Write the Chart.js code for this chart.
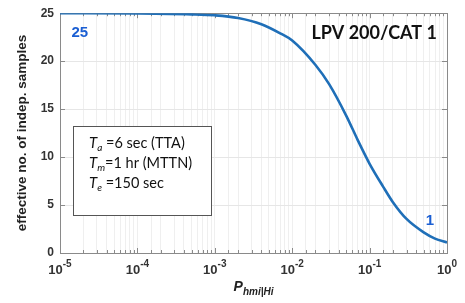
<!DOCTYPE html>
<html><head><meta charset="utf-8">
<script src="https://cdn.jsdelivr.net/npm/chart.js@4"></script>
<style>html,body{margin:0;padding:0;background:#fff}#wrap{width:465px;height:303px;position:relative}</style>
</head><body><div id="wrap"><canvas id="c"></canvas></div>
<script>
const pValues = [1e-5, 1e-4, 5e-4, 1e-3, 2e-3, 4e-3, 7e-3, 1e-2, 2e-2, 3e-2, 5e-2, 7e-2, 0.1, 0.15, 0.2, 0.3, 0.5, 0.7, 1];
const nEff    = [25.0, 24.97, 24.88, 24.78, 24.5, 23.85, 22.9, 22.15, 19.6, 17.6, 14.3, 11.8, 9.3, 6.9, 5.3, 3.55, 2.15, 1.5, 1.1];
const xTickExponents = [-5, -4, -3, -2, -1, 0];
const yTickValues = [0, 5, 10, 15, 20, 25];
const startLabel = "25";
const endLabel = "1";
const titleLabel = "LPV 200/CAT 1";
const yTitle = "effective no. of indep. samples";
const xTitleMain = "P";
const xTitleSub = "hmi|Hi";
const boxLines = [["a", " =6 sec (TTA)"], ["m", "=1 hr (MTTN)"], ["e", " =150 sec"]];

const BLUE = '#1f6fb8', LBLUE = '#1b5fd3';

const overlay = {
  id: 'overlay',
  beforeDatasetsDraw(chart) {
    const {ctx, chartArea: a, scales: {x, y}} = chart;
    ctx.save();
    ctx.strokeStyle = '#8a8a8a';
    ctx.lineWidth = 1;
    ctx.beginPath();
    x.ticks.forEach(t => {
      const px = Math.round(x.getPixelForValue(t.value)) + 0.5;
      const major = Math.abs(Math.log10(t.value) - Math.round(Math.log10(t.value))) < 1e-6;
      const len = major ? 5 : 3;
      ctx.moveTo(px, a.bottom); ctx.lineTo(px, a.bottom - len);
      ctx.moveTo(px, a.top); ctx.lineTo(px, a.top + len);
    });
    yTickValues.forEach(v => {
      const py = Math.round(y.getPixelForValue(v)) + 0.5;
      ctx.moveTo(a.left, py); ctx.lineTo(a.left + 5, py);
      ctx.moveTo(a.right, py); ctx.lineTo(a.right - 5, py);
    });
    ctx.stroke();
    ctx.strokeRect(Math.round(a.left) + 0.5, Math.round(a.top) + 0.5, Math.round(a.right - a.left), Math.round(a.bottom - a.top));
    ctx.restore();
  },
  afterDraw(chart) {
    const {ctx, chartArea: a, scales: {x, y}} = chart;
    ctx.save();
    ctx.fillStyle = '#333';
    const FB = 'bold 13px "Liberation Sans", Arial, sans-serif';
    const FE = 'bold 10px "Liberation Sans", Arial, sans-serif';
    xTickExponents.forEach(e => {
      const px = x.getPixelForValue(Math.pow(10, e));
      const base = '10', exp = String(e);
      ctx.font = FB; const wb = ctx.measureText(base).width;
      ctx.font = FE; const we = ctx.measureText(exp).width;
      const start = px - (wb + we) / 2;
      ctx.textBaseline = 'alphabetic';
      ctx.textAlign = 'left';
      ctx.font = FB; ctx.fillText(base, start, a.bottom + 21);
      ctx.font = FE; ctx.fillText(exp, start + wb, a.bottom + 14);
    });
    // x title
    ctx.fillStyle = '#222';
    const FP = 'italic bold 14px "Liberation Sans", Arial, sans-serif';
    const FS = 'italic bold 10px "Liberation Sans", Arial, sans-serif';
    ctx.font = FP; const wP = ctx.measureText(xTitleMain).width;
    ctx.font = FS; const wS = ctx.measureText(xTitleSub).width;
    const sx = (a.left + a.right) / 2 - (wP + wS) / 2;
    ctx.font = FP; ctx.fillText(xTitleMain, sx, 291);
    ctx.font = FS; ctx.fillText(xTitleSub, sx + wP, 295);
    // blue labels
    ctx.fillStyle = LBLUE;
    ctx.font = 'bold 15px "Liberation Sans", Arial, sans-serif';
    ctx.textAlign = 'center';
    ctx.textBaseline = 'middle';
    ctx.fillText(startLabel, x.getPixelForValue(1.8e-5), y.getPixelForValue(22.9));
    ctx.fillText(endLabel, x.getPixelForValue(0.6), y.getPixelForValue(3.4));
    // title label
    ctx.fillStyle = '#111';
    ctx.font = 'bold 18px Lato, "Open Sans", sans-serif';
    ctx.textAlign = 'right';
    ctx.fillText(titleLabel, x.getPixelForValue(0.74), y.getPixelForValue(22.9));
    // parameter box
    const bl = Math.round(x.getPixelForValue(1.48e-5)) + 0.5, br = Math.round(x.getPixelForValue(8.9e-4)) + 0.5;
    const bt = Math.round(y.getPixelForValue(13.2)) + 0.5, bb = Math.round(y.getPixelForValue(4.0)) + 0.5;
    ctx.fillStyle = '#fff';
    ctx.fillRect(bl, bt, br - bl, bb - bt);
    ctx.strokeStyle = '#555';
    ctx.lineWidth = 1;
    ctx.strokeRect(bl, bt, br - bl, bb - bt);
    ctx.fillStyle = '#111';
    ctx.textAlign = 'left';
    ctx.textBaseline = 'alphabetic';
    boxLines.forEach((ln, i) => {
      const by = bt + 21 + i * 20;
      let tx = bl + 15.5;
      ctx.font = 'italic 15px Lato, "Open Sans", sans-serif';
      ctx.fillText('T', tx, by);
      tx += ctx.measureText('T').width;
      ctx.font = 'italic 10px Lato, "Open Sans", sans-serif';
      ctx.fillText(ln[0], tx, by + 3);
      tx += ctx.measureText(ln[0]).width;
      ctx.font = '14.5px Lato, "Open Sans", sans-serif';
      ctx.fillText(ln[1], tx, by);
    });
    ctx.restore();
  }
};

new Chart(document.getElementById('c'), {
  type: 'scatter',
  data: {
    datasets: [{
      data: pValues.map((p, i) => ({x: p, y: nEff[i]})),
      showLine: true,
      borderColor: BLUE,
      borderWidth: 2.6,
      pointRadius: 0,
      cubicInterpolationMode: 'monotone',
      fill: false
    }]
  },
  options: {
    responsive: true,
    maintainAspectRatio: false,
    animation: false,
    layout: {padding: {top: 11, right: 18, left: 0, bottom: 0}},
    plugins: {legend: {display: false}, tooltip: {enabled: false}},
    scales: {
      x: {
        type: 'logarithmic',
        min: 1e-5, max: 1,
        afterFit: s => { s.height = 50; },
        ticks: {display: false},
        grid: {color: '#efefef', drawTicks: false},
        border: {display: false}
      },
      y: {
        min: 0, max: 25,
        afterFit: s => { s.width = 60; },
        afterBuildTicks: s => { s.ticks = yTickValues.map(v => ({value: v})); },
        ticks: {
          padding: 6,
          color: '#333',
          font: {family: '"Liberation Sans", Arial, sans-serif', size: 12, weight: 'bold'}
        },
        grid: {color: '#e6e6e6', drawTicks: false},
        border: {display: false},
        title: {
          display: true,
          text: yTitle,
          color: '#222',
          font: {family: '"Liberation Sans", Arial, sans-serif', size: 13.5, weight: 'bold'},
          padding: {top: 14, bottom: 0}
        }
      }
    }
  },
  plugins: [overlay]
});
</script>
</body></html>
